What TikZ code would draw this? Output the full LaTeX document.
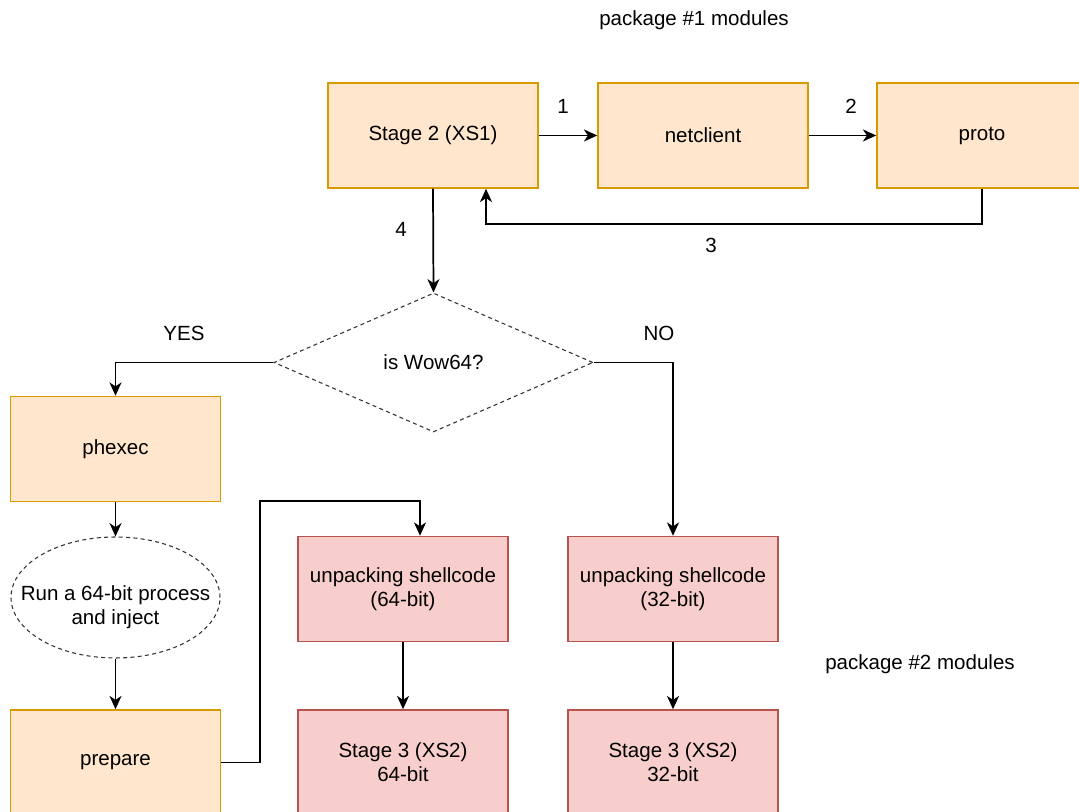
\documentclass[tikz,border=0pt]{standalone}
\usepackage{fontspec}
\setmainfont{Liberation Sans}
\usetikzlibrary{shapes.geometric,arrows.meta}
\definecolor{orfill}{HTML}{FFE6CC}
\definecolor{ordraw}{HTML}{D79B00}
\definecolor{rdfill}{HTML}{F8CECC}
\definecolor{rddraw}{HTML}{B85450}
\definecolor{dashcol}{HTML}{333333}
\begin{document}
\begin{tikzpicture}[x=0.75pt,y=-0.75pt, font=\fontsize{15.4}{18}\selectfont,
  orbox/.style={draw=ordraw, fill=orfill, line width=1.1pt, minimum width=157.5pt, minimum height=78.75pt, align=center, inner sep=0pt},
  rdbox/.style={orbox, draw=rddraw, fill=rdfill},
  arr/.style={-{Stealth[length=10pt,width=9pt,inset=3pt]}, line width=1.3pt},
  dsh/.style={draw=dashcol, line width=0.8pt, dash pattern=on 3pt off 2.5pt},
  lbl/.style={inner sep=0pt}]
\useasboundingbox (0,0) rectangle (1079,812);
\clip (0,0) rectangle (1079,812);
\fill[white] (0,0) rectangle (1079,812);
% boxes
\node[orbox] (s2) at (433,135.5) {Stage 2 (XS1)};
\node[orbox] (net) at (703,135.5) {netclient};
\node[orbox] (proto) at (982,135.5) {proto};
\node[diamond, dsh, inner sep=0pt, minimum width=239.25pt, minimum height=104.25pt] (dia) at (433.5,362.5) {is Wow64?};
\node[orbox] (phex) at (115.5,449) {phexec};
\node[ellipse, dsh, minimum width=156.75pt, minimum height=90.75pt, inner sep=0pt,
  label={[align=center, inner sep=0pt, yshift=-7pt]center:Run a 64-bit process\\and inject}] (ell) at (115.5,597.5) {};
\node[orbox] (prep) at (115.5,762.5) {prepare};
\node[rdbox] (u64) at (403,589) {unpacking shellcode\\(64-bit)};
\node[rdbox] (u32) at (673,589) {unpacking shellcode\\(32-bit)};
\node[rdbox] (st64) at (403,762.5) {Stage 3 (XS2)\\64-bit};
\node[rdbox] (st32) at (673,762.5) {Stage 3 (XS2)\\32-bit};
% labels
\node[lbl] (l1) at (563,106) {1};
\node[lbl] (l2) at (851,106) {2};
\node[lbl] (l3) at (711,245) {3};
\node[lbl] (l4) at (401,229) {4};
\node[lbl] (lyes) at (184,333) {YES};
\node[lbl] (lno) at (659,333) {NO};
\node[lbl] (p1) at (694,20) {package \#1 modules};
\node[lbl] (p2) at (920,664) {package \#2 modules};
% connectors
\draw[arr] (s2) -- (net);
\draw[arr] (net) -- (proto);
\draw[arr] (proto.south) -- ++(0,35) -| ([xshift=39.75pt]s2.south);
\draw[arr] (s2.south) -- (dia.north);
\draw[arr] (dia.west) -| (phex.north);
\draw[arr] (dia.east) -| (u32.north);
\draw[arr] (phex) -- (ell);
\draw[arr] (ell) -- (prep);
\coordinate (bend) at (260,501);
\draw[arr] (prep.east) -| (bend) -| ([xshift=12.75pt]u64.north);
\draw[arr] (u64) -- (st64);
\draw[arr] (u32) -- (st32);
\end{tikzpicture}
\end{document}
